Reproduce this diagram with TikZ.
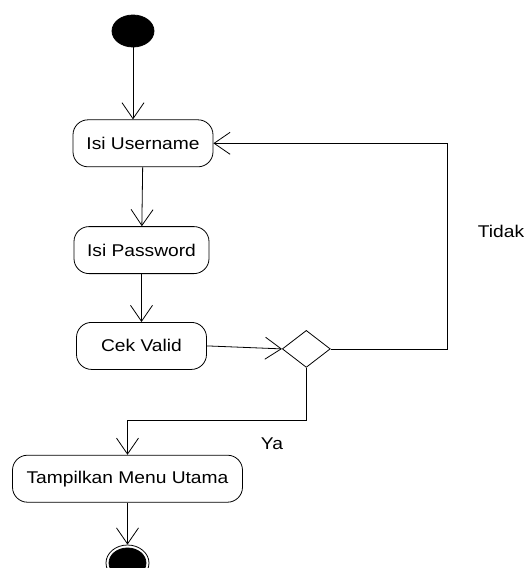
\documentclass[tikz,border=0pt]{standalone}
\usepackage{fontspec}
\setmainfont{Liberation Sans}[FakeStretch=1.13]
\usetikzlibrary{positioning, shapes.geometric, arrows.meta}

\tikzset{
  act/.style={draw, rounded corners=15pt, minimum height=47pt, inner sep=2pt},
  startdot/.style={ellipse, fill=black, draw, inner sep=0pt},
  decision/.style={diamond, draw, fill=white, inner sep=0pt, minimum width=48pt, minimum height=37pt},
  flow/.style={-{Straight Barb[length=16pt, width=22pt]}},
  lbl/.style={inner sep=0pt}
}

\begin{document}
\begin{tikzpicture}[line width=0.8pt, font=\fontsize{17pt}{20pt}\selectfont]
	\useasboundingbox (0,0) rectangle (526pt,-568pt);
	\node[startdot, minimum width=42pt, minimum height=32pt] (start) at (133pt,-31pt) {};
	\node[act, below=72pt of start, xshift=10pt, minimum width=140pt] (user) {Isi Username};
	\draw[flow] (start) -- (start |- user.north);
	\node[act, below=59pt of user, xshift=-1.5pt, minimum width=135pt] (pass) {Isi Password};
	\draw[flow] (user) -- (pass);
	\node[act, below=48pt of pass, minimum width=130pt] (cek) {Cek Valid};
	\draw[flow] (pass) -- (cek);
	\node[decision, right=75pt of cek, yshift=-3pt] (dec) {};
	\draw[flow] (cek.east) -- (dec.west);
	\draw[flow] (dec.east) -- ++(117pt,0) coordinate (aux) |- (user.east);
	\node[lbl] (tidak) at (501pt,-231pt) {Tidak};
	\node[act, below=85pt of cek, xshift=-14pt, minimum width=230pt] (menu) {Tampilkan Menu Utama};
	\draw[flow] (dec.south) -- ++(0,-53pt) coordinate (aux) -| (menu.north);
	\node[lbl] (ya) at (272pt,-444pt) {Ya};
	\node[draw, ellipse, inner sep=0pt, minimum width=43pt, minimum height=36pt, below=42pt of menu] (end) {};
	\node[startdot, minimum width=37pt, minimum height=30pt] (endin) at (end) {};
	\draw[flow] (menu) -- (end);
\end{tikzpicture}
\end{document}
